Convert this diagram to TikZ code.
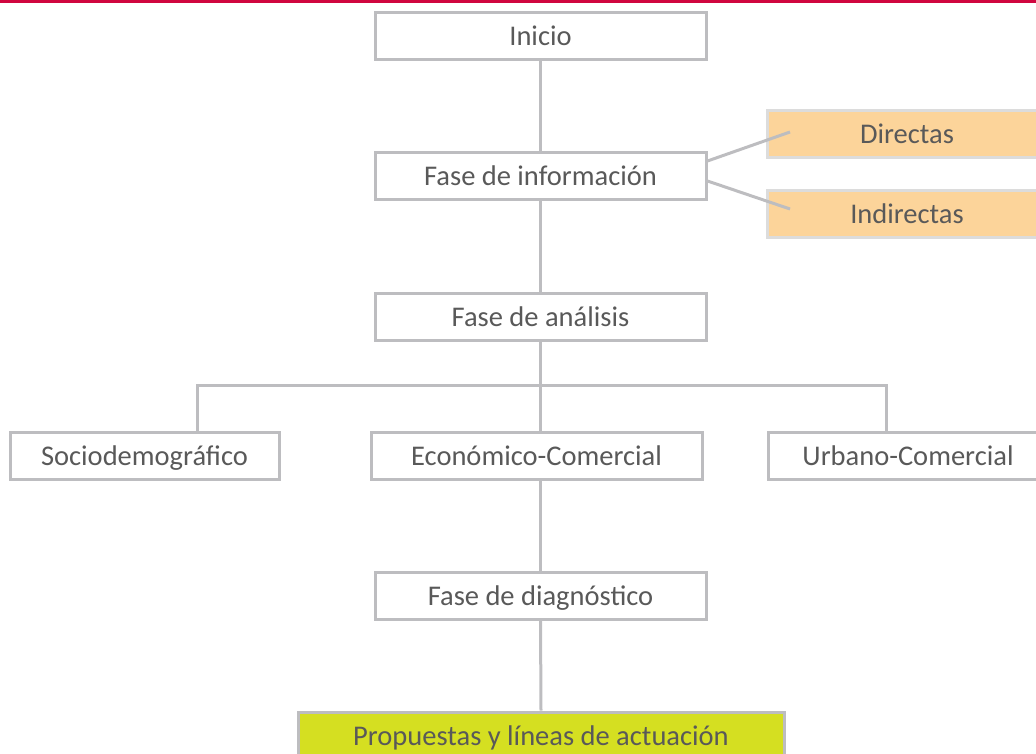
\documentclass[tikz,border=0pt]{standalone}
\usepackage{fontspec}
\setmainfont{Carlito}
\definecolor{boxline}{HTML}{BDBDC0}
\definecolor{txt}{HTML}{595959}
\definecolor{orangefill}{HTML}{FCD49A}
\definecolor{orangeline}{HTML}{DCDCDC}
\definecolor{greenfill}{HTML}{D5DF21}
\definecolor{topred}{HTML}{D0063F}
\tikzset{
  flowbox/.style={draw=boxline, line width=3pt, fill=white, text=txt, font=\fontsize{28.5}{32}\selectfont,
    minimum height=47pt, inner sep=0pt, text height=22.5pt, text depth=3.5pt},
  sidebox/.style={flowbox, draw=orangeline, fill=orangefill},
  finalbox/.style={flowbox, fill=greenfill},
  conn/.style={draw=boxline, line width=3pt}
}
\begin{document}
\begin{tikzpicture}[x=1pt,y=-1pt]
\useasboundingbox (0,0) rectangle (1036,754);
\clip (0,0) rectangle (1036,754);
\fill[topred] (0,0) rectangle (1036,3.5);
% nodes
\node[flowbox, minimum width=331pt] (inicio) at (540.5,36.5) {Inicio};
\node[flowbox, minimum width=331pt] (info) at (540.5,176.5) {Fase de información};
\node[sidebox, minimum width=280pt] (dir) at (907,134.5) {Directas};
\node[sidebox, minimum width=280pt] (ind) at (907,214.5) {Indirectas};
\node[flowbox, minimum width=331pt] (analisis) at (540.5,316.5) {Fase de análisis};
\node[flowbox, minimum width=269pt] (socio) at (144.5,455.5) {Sociodemográfico};
\node[flowbox, minimum width=331pt] (econ) at (536.5,455.5) {Económico-Comercial};
\node[flowbox, minimum width=280pt] (urb) at (908,455.5) {Urbano-Comercial};
\node[flowbox, minimum width=331pt] (diag) at (540.5,595.5) {Fase de diagnóstico};
\node[finalbox, minimum width=486pt] (prop) at (541,735.5) {Propuestas y líneas de actuación};
% connector ends
\coordinate (dEnd) at (790,132);
\coordinate (iEnd) at (790,209);
\coordinate (busL) at (197,385);
\coordinate (busR) at (886,385);
% connectors
\draw[conn] (inicio.south) -- (info.north);
\draw[conn] (info.south) -- (analisis.north);
\draw[conn] ([yshift=15.5pt]info.east) -- (dEnd);
\draw[conn] ([yshift=-4.5pt]info.east) -- (iEnd);
\draw[conn] (analisis.south) -- (analisis.south |- econ.north);
\draw[conn] (busL |- socio.north) -- (busL) -- (busR) -- (busR |- urb.north);
\draw[conn] (econ.south -| diag.north) -- (diag.north);
\draw[conn] (diag.south) -- (prop.north);
\end{tikzpicture}
\end{document}
